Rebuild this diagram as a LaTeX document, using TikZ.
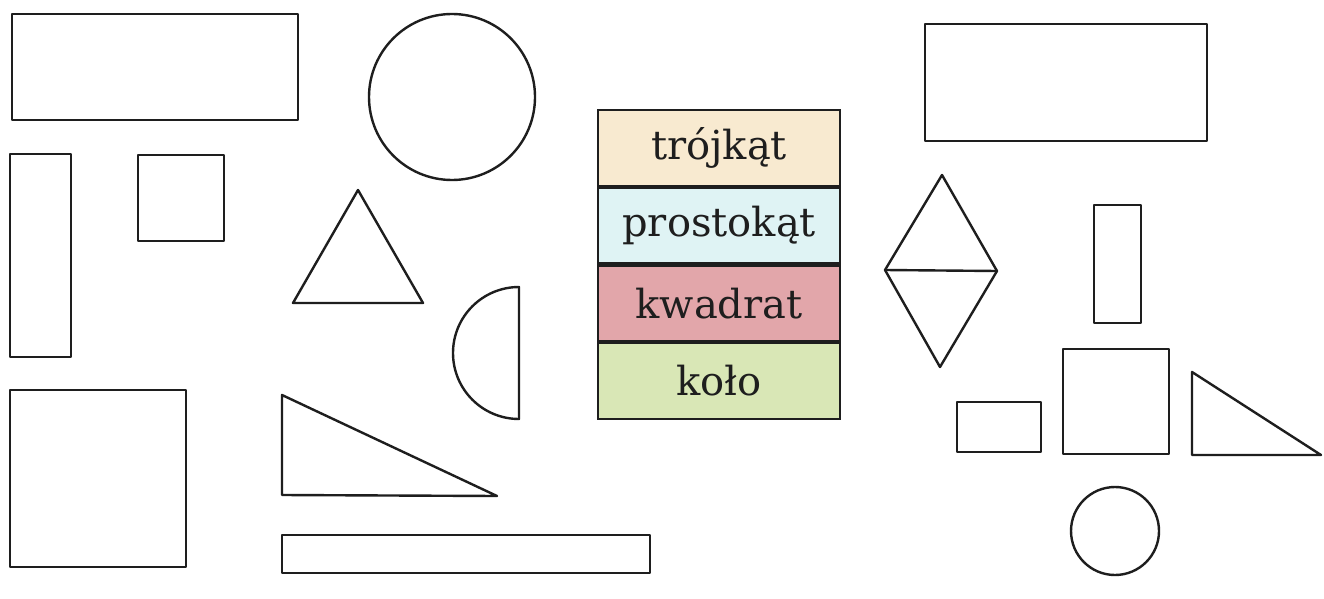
\documentclass[tikz,border=0pt]{standalone}
\usepackage{fontspec}
\setmainfont{DejaVu Serif}
\definecolor{cA}{HTML}{F8EAD0}
\definecolor{cB}{HTML}{DFF3F4}
\definecolor{cC}{HTML}{E2A6AA}
\definecolor{cD}{HTML}{D9E7B6}
\definecolor{ink}{HTML}{1E1E1E}
\tikzset{
  shp/.style={draw=ink, line width=2.4pt, line join=round},
  cell/.style={draw=ink, line width=2.2pt, minimum width=242pt, minimum height=75.5pt,
     inner sep=0pt, font=\fontsize{40}{40}\selectfont, text=ink, anchor=north west}
}
\begin{document}
\begin{tikzpicture}[x=1pt,y=-1pt]
\useasboundingbox[fill=white] (0,0) rectangle (1324,599);
% left group
\draw[shp] (12,14) rectangle (298,120);
\draw[shp] (10,154) rectangle (71,357);
\draw[shp] (138,155) rectangle (224,241);
\draw[shp] (452,97) circle (83);
\draw[shp] (358,190) -- (423,303) -- (293,303) -- cycle;
\draw[shp] (519,287) arc[start angle=-90, end angle=-270, radius=66] -- cycle;
\draw[shp] (10,390) rectangle (186,567);
\draw[shp] (282,395) -- (497,496) -- (282,495) -- cycle;
\draw[shp] (282,535) rectangle (650,573);
% table
\node[cell, fill=cA] (r1) at (597,109) {trójkąt};
\node[cell, fill=cB] (r2) at (r1.south west) {prostokąt};
\node[cell, fill=cC] (r3) at (r2.south west) {kwadrat};
\node[cell, fill=cD] (r4) at (r3.south west) {koło};
% right group
\draw[shp] (925,24) rectangle (1207,141);
\draw[shp] (942,175) -- (997,271) -- (940,367) -- (885,270) -- cycle;
\draw[shp] (885,270) -- (997,271);
\draw[shp] (1094,205) rectangle (1141,323);
\draw[shp] (957,402) rectangle (1041,452);
\draw[shp] (1063,349) rectangle (1169,454);
\draw[shp] (1192,372) -- (1321,455) -- (1192,455) -- cycle;
\draw[shp] (1115,531) circle (44);
\end{tikzpicture}
\end{document}
